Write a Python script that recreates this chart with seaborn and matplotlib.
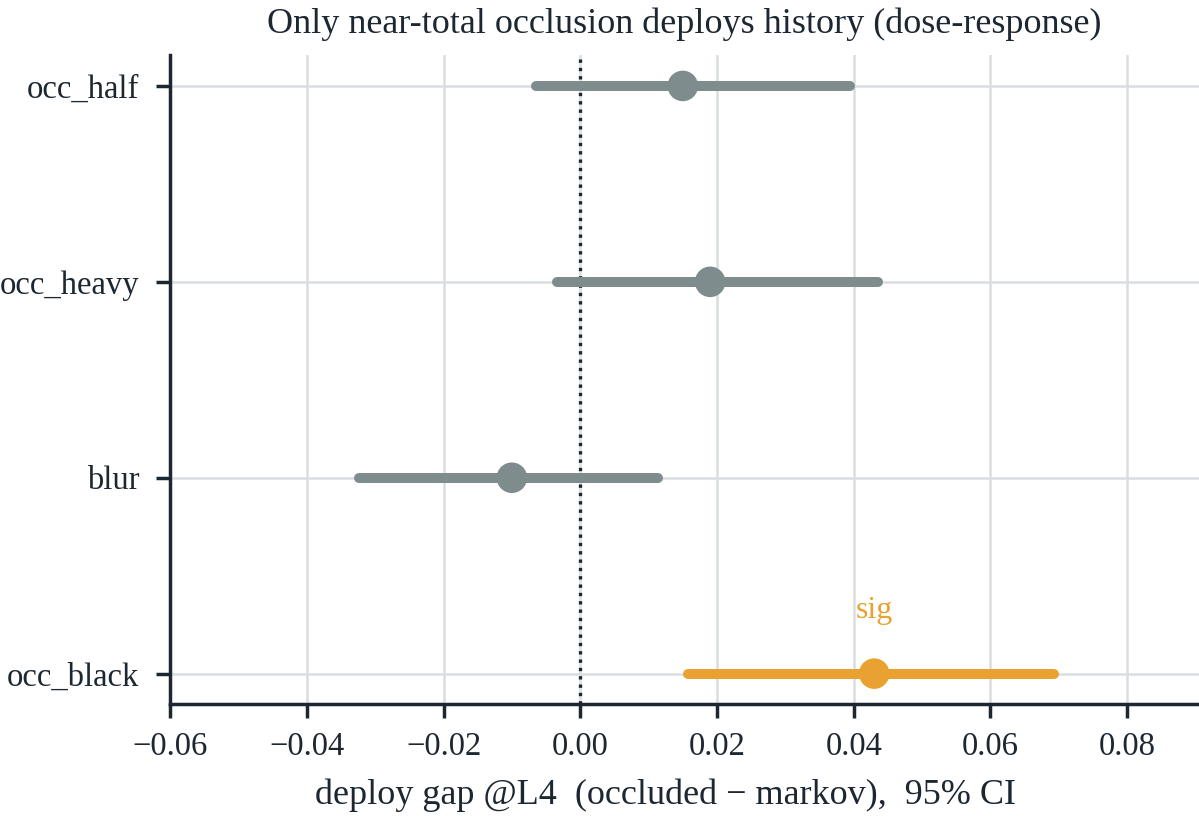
import numpy as np
import pandas as pd
import matplotlib
matplotlib.use("Agg")
import matplotlib.pyplot as plt
import seaborn as sns

# forest plot: deploy gap per condition with 95% CI
conditions = ["occ_half", "occ_heavy", "blur", "occ_black"]
gap = [0.015, 0.019, -0.010, 0.043]
ci_low = [-0.0064, -0.0034, -0.0324, 0.0157]
ci_high = [0.0395, 0.0435, 0.0114, 0.0693]
significant = [False, False, False, True]
xticks = [-0.06, -0.04, -0.02, 0.00, 0.02, 0.04, 0.06, 0.08]

GREY = "#7f8c8d"
ORANGE = "#e9a232"
INK = "#1c2731"

df = pd.DataFrame({"condition": conditions, "gap": gap,
                   "lo": ci_low, "hi": ci_high, "sig": significant})
df["y"] = np.arange(len(df))

sns.set_style("whitegrid")
plt.rcParams["font.family"] = ["Liberation Serif", "DejaVu Serif"]
plt.rcParams["text.color"] = INK
plt.rcParams["axes.labelcolor"] = INK
plt.rcParams["xtick.color"] = INK
plt.rcParams["ytick.color"] = INK

fig = plt.figure(figsize=(11.99, 8.23), dpi=100)
ax = fig.add_axes([0.1418, 0.1446, 0.8582, 0.7886])

# CI bars
for i, row in df.iterrows():
    c = ORANGE if row["sig"] else GREY
    ax.plot([row["lo"], row["hi"]], [row["y"], row["y"]], color=c, lw=7.2,
            solid_capstyle="round", zorder=3)

sns.scatterplot(data=df, x="gap", y="y", hue="sig",
                palette={False: GREY, True: ORANGE}, s=22 ** 2,
                edgecolor="none", legend=False, zorder=4, ax=ax)

for i, row in df.iterrows():
    if row["sig"]:
        ax.text(row["gap"], row["y"] - 0.32, "sig", color=ORANGE, fontsize=23,
                ha="center", va="center")

ax.axvline(0, color=INK, lw=2.4, ls=(0, (1, 1.5)), zorder=2)

ax.set_yticks(df["y"])
ax.set_yticklabels(conditions)
ax.set_ylim(3.155, -0.158)
ax.set_xlim(-0.06, 0.0905)
ax.set_xticks(xticks)
ax.set_xticklabels([f"{v:.2f}".replace("-", "\u2212") for v in xticks])

ax.grid(True, color="#d9dee1", lw=1.8)
ax.set_axisbelow(True)
for s in ["top", "right"]:
    ax.spines[s].set_visible(False)
for s in ["left", "bottom"]:
    ax.spines[s].set_color(INK)
    ax.spines[s].set_linewidth(2.5)
ax.tick_params(axis="both", bottom=True, left=True, length=10, width=2.5,
               labelsize=23.5, color=INK)
ax.tick_params(axis="y", pad=12)
ax.tick_params(axis="x", pad=10)

ax.set_xlabel("deploy gap @L4  (occluded \u2212 markov),  95% CI", fontsize=26)
ax.xaxis.set_label_coords(0.482, -0.140)
ax.xaxis.label.set_verticalalignment("center")
ax.set_ylabel("")
ax.set_title("Only near-total occlusion deploys history (dose-response)", fontsize=26, pad=15.5)

fig.savefig("out.png", dpi=100)
